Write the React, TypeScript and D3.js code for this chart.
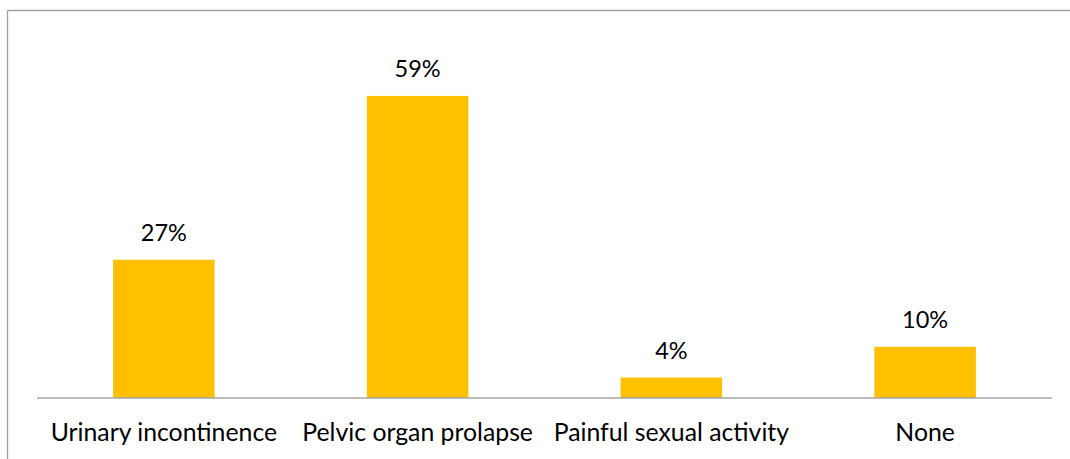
import React from "react";
import * as d3 from "d3";

const categories: string[] = [
  "Urinary incontinence",
  "Pelvic organ prolapse",
  "Painful sexual activity",
  "None",
];
const values: number[] = [27, 59, 4, 10];

const W = 1070;
const H = 459;
const FONT = "Lato, 'Open Sans', sans-serif";

export default function App() {
  const x = d3
    .scaleBand<string>()
    .domain(categories)
    .range([37, 1052])
    .paddingInner(0.6)
    .paddingOuter(0.3);
  const baseY = 398;
  const y = d3.scaleLinear().domain([0, 70]).range([baseY, baseY - 358.4]);

  return (
    <div style={{ position: "fixed", left: 0, top: 0 }}>
      <svg width={W} height={H} style={{ display: "block", background: "#fff" }}>
        {/* chart frame */}
        <line x1={7.5} x2={W} y1={10.5} y2={10.5} stroke="#A0A0A0" strokeWidth={1.3} />
        <line x1={7.5} x2={7.5} y1={10.5} y2={H} stroke="#A0A0A0" strokeWidth={1.3} />
        {/* bars */}
        {categories.map((c, i) => (
          <rect
            key={c}
            x={x(c)}
            width={x.bandwidth()}
            y={y(values[i])}
            height={baseY - y(values[i])}
            fill="#FFC000"
          />
        ))}
        {/* axis line */}
        <line x1={37} x2={1052} y1={baseY} y2={baseY} stroke="#A6A6A6" strokeWidth={1.5} />
        {/* data labels */}
        {categories.map((c, i) => (
          <text
            key={"l" + c}
            x={(x(c) as number) + x.bandwidth() / 2}
            y={y(values[i]) - 19}
            textAnchor="middle"
            fontFamily={FONT}
            fontSize={23.5}
            fill="#000"
          >
            {values[i]}%
          </text>
        ))}
        {/* category labels */}
        {categories.map((c) => (
          <text
            key={"c" + c}
            x={(x(c) as number) + x.bandwidth() / 2}
            y={baseY + 43}
            textAnchor="middle"
            fontFamily={FONT}
            fontSize={24.8}
            fill="#000"
          >
            {c}
          </text>
        ))}
      </svg>
    </div>
  );
}
